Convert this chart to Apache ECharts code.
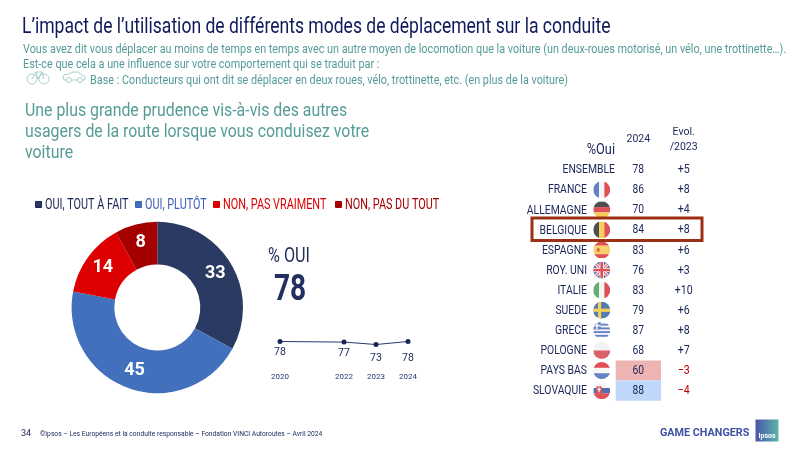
<!DOCTYPE html>
<html><head><meta charset="utf-8">
<style>html,body{margin:0;padding:0;background:#fff}#c{width:800px;height:450px}</style>
<script src="https://cdn.jsdelivr.net/npm/echarts@6/dist/echarts.min.js"></script>
</head><body><div id="c"></div>
<script>
const answerLabels = ['OUI, TOUT À FAIT','OUI, PLUTÔT','NON, PAS VRAIMENT','NON, PAS DU TOUT'];
const answerValues = [33,45,14,8];
const answerColors = ['#2a3a62','#4270bd','#dd0000','#a50000'];
const legendTextColors = ['#1a2558','#3f62b8','#dd0000','#a50000'];
const trendYears = [2020,2022,2023,2024];
const trendValues = [78,77,73,78];
const countries = ['ENSEMBLE','FRANCE','ALLEMAGNE','BELGIQUE','ESPAGNE','ROY. UNI','ITALIE','SUEDE','GRECE','POLOGNE','PAYS BAS','SLOVAQUIE'];
const values2024 = [78,86,70,84,83,76,83,79,87,68,60,88];
const evol2023 = [5,8,4,8,6,3,10,6,8,7,-3,-4];
const tableColumns = ['2024','Evol.\n/2023'];
const highlighted = {'PAYS BAS':'#eeb4b4','SLOVAQUIE':'#bfd7fb'};

const NAVY='#1a2558', TEAL='#559c97', FONT='Roboto,sans-serif';

function flagSvg(body){
  const s='<svg xmlns="http://www.w3.org/2000/svg" width="68" height="68" viewBox="0 0 64 64"><defs><clipPath id="k"><circle cx="32" cy="32" r="32"/></clipPath></defs><g clip-path="url(#k)">'+body+'</g></svg>';
  return 'image://data:image/svg+xml;charset=utf-8,'+encodeURIComponent(s);
}
const r=(x,y,w,h,f)=>`<rect x="${x}" y="${y}" width="${w}" height="${h}" fill="${f}"/>`;
const flags={
 'FRANCE':r(0,0,22,64,'#3f62b8')+r(22,0,20,64,'#f4f4f4')+r(42,0,22,64,'#d8262e'),
 'ALLEMAGNE':r(0,0,64,22,'#222')+r(0,22,64,20,'#d8262e')+r(0,42,64,22,'#f5c02c'),
 'BELGIQUE':r(0,0,22,64,'#222')+r(22,0,20,64,'#f5c52c')+r(42,0,22,64,'#d8262e'),
 'ESPAGNE':r(0,0,64,16,'#d8262e')+r(0,16,64,32,'#f5c542')+r(0,48,64,16,'#d8262e')+r(14,26,10,12,'#c0392b'),
 'ROY. UNI':r(0,0,64,64,'#2d4a9a')+'<path d="M0 0L64 64M64 0L0 64" stroke="#fff" stroke-width="12"/><path d="M0 0L64 64M64 0L0 64" stroke="#d8262e" stroke-width="4"/>'+r(24,0,16,64,'#fff')+r(0,24,64,16,'#fff')+r(27,0,10,64,'#d8262e')+r(0,27,64,10,'#d8262e'),
 'ITALIE':r(0,0,22,64,'#3f9a4e')+r(22,0,20,64,'#f4f4f4')+r(42,0,22,64,'#d8262e'),
 'SUEDE':r(0,0,64,64,'#2c5aa0')+r(18,0,12,64,'#f5c52c')+r(0,26,64,12,'#f5c52c'),
 'GRECE':r(0,0,64,64,'#f4f4f4')+r(0,7,64,7,'#3f62b8')+r(0,21,64,7,'#3f62b8')+r(0,35,64,7,'#3f62b8')+r(0,49,64,7,'#3f62b8')+r(0,0,28,28,'#3f62b8')+r(11,0,6,28,'#f4f4f4')+r(0,11,28,6,'#f4f4f4'),
 'POLOGNE':r(0,0,64,32,'#f0f0f0')+r(0,32,64,32,'#d03a42'),
 'PAYS BAS':r(0,0,64,22,'#d8262e')+r(0,22,64,20,'#f4f4f4')+r(0,42,64,22,'#3f62b8'),
 'SLOVAQUIE':r(0,0,64,22,'#f4f4f4')+r(0,22,64,20,'#2d4a9a')+r(0,42,64,22,'#d8262e')+r(12,16,20,28,'#d8262e')+r(20,20,4,18,'#fff')+r(15,25,14,4,'#fff')
};

function T(x,y,text,size,color,sx,opt){
  opt=opt||{};
  return {type:'text',silent:true,x,y,scaleX:sx||1,style:{x:0,y:0,text,fill:color,
    font:(opt.weight||'normal')+' '+size+'px '+FONT,
    textAlign:opt.align||'left',textVerticalAlign:'middle'}};
}
const iconStroke='#a9cfcb';
const bike={type:'group',silent:true,children:[
 {type:'circle',shape:{cx:32,cy:79,r:5},style:{fill:'none',stroke:iconStroke}},
 {type:'circle',shape:{cx:44,cy:79,r:5},style:{fill:'none',stroke:iconStroke}},
 {type:'polyline',shape:{points:[[32,79],[36,72],[42,72],[44,79]]},style:{fill:'none',stroke:iconStroke}},
 {type:'polyline',shape:{points:[[36,72],[38,79],[42,72]]},style:{fill:'none',stroke:iconStroke}}]};
const car={type:'group',silent:true,children:[
 {type:'polygon',shape:{points:[[64,80],[63,76],[65,74.5],[69,74],[73,72],[78,72],[82,75],[85,76.5],[85,80]]},style:{fill:'none',stroke:iconStroke}},
 {type:'circle',shape:{cx:69,cy:80,r:2.5},style:{fill:'#fff',stroke:iconStroke}},
 {type:'circle',shape:{cx:80,cy:80,r:2.5},style:{fill:'#fff',stroke:iconStroke}}]};

const legendX=[35,135,213,335];
const legendGraphics=[];
answerLabels.forEach((n,i)=>{
  legendGraphics.push({type:'rect',silent:true,shape:{x:legendX[i]+.5,y:201.5,width:6,height:6},
    style:{fill:answerColors[i],stroke:legendTextColors[i],lineWidth:1}});
  legendGraphics.push(T(legendX[i]+10,205,n,14,legendTextColors[i],0.775));
});

const graphics=[
 T(22,27.5,'L’impact de l’utilisation de différents modes de déplacement sur la conduite',21.4,'#0f1a5c',0.82),
 T(23,50,'Vous avez dit vous déplacer au moins de temps en temps avec un autre moyen de locomotion que la voiture (un deux-roues motorisé, un vélo, une trottinette…).',13,TEAL,0.833),
 T(23,65,'Est-ce que cela a une influence sur votre comportement qui se traduit par :',13,TEAL,0.833),
 T(90,81,'Base : Conducteurs qui ont dit se déplacer en deux roues, vélo, trottinette, etc. (en plus de la voiture)',13,TEAL,0.833),
 bike,car,
 T(25,111,'Une plus grande prudence vis-à-vis des autres',19,TEAL,0.835),
 T(25,132,'usagers de la route lorsque vous conduisez votre',19,TEAL,0.835),
 T(25,153,'voiture',19,TEAL,0.835),
 ...legendGraphics,
 T(268,257,'% OUI',20,'#232f5e',0.81),
 T(274,291,'78',36,'#232f5e',0.78,{weight:'bold'}),
 T(615,150,'%Oui',15,NAVY,0.85,{align:'right'}),
 {type:'rect',silent:true,z:10,shape:{x:532,y:218,width:170,height:22.5},style:{fill:'none',stroke:'#9c2f14',lineWidth:3}},
 T(21,434,'34',9,NAVY),
 T(40,434,'©Ipsos – Les Européens et la conduite responsable – Fondation VINCI Autoroutes – Avril 2024',7,NAVY,0.96),
 T(660,433,'GAME CHANGERS',11,'#3f51a3',0.98,{weight:'bold'}),
 {type:'rect',silent:true,shape:{x:755.5,y:419.5,width:23,height:22},style:{fill:new echarts.graphic.LinearGradient(0,0,1,0,[{offset:0,color:'#4a55ab'},{offset:1,color:'#5bb5a9'}])}},
 T(767,436,'Ipsos',7,'#fff',1,{weight:'bold',align:'center'})
];

// Table cell text placed through the table's own category axes, narrowed to the original's condensed look
function cellText(api,column,row,text,size,color,sx,align,dx){
  const c=api.coord([column,row]), s=api.size([1,1]);
  const x=align==='right'?c[0]-s[0]/2+dx:c[0];
  return {type:'text',x,y:c[1]+.5,scaleX:sx,style:{x:0,y:0,text:String(text),fill:color,font:size+'px '+FONT,
     align,verticalAlign:'middle',textAlign:align,textVerticalAlign:'middle'}};
}

const option={
 animation:false,
 textStyle:{fontFamily:FONT},
 graphic:graphics,
 grid:[
  {left:280,width:128,top:340.3,height:6},
  {left:615.7,width:90.6,top:159.5,height:241.2},
  {left:593.5,width:16.4,top:159.5,height:241.2}
 ],
 xAxis:[
  {gridIndex:0,type:'value',min:2020,max:2024,interval:1,splitLine:{show:false},axisLine:{show:false},axisTick:{show:false},
   axisLabel:{customValues:trendYears,margin:27,fontSize:8,color:'#2b3870',fontFamily:FONT,formatter:v=>String(v),hideOverlap:false}},
  {gridIndex:1,type:'category',position:'top',data:tableColumns,axisLine:{show:false},axisTick:{show:false},
   axisLabel:{interval:0,margin:20,fontSize:10.5,lineHeight:15,color:NAVY,fontFamily:FONT,verticalAlign:'middle'}},
  {gridIndex:2,type:'category',data:['flag'],show:false}
 ],
 yAxis:[
  {gridIndex:0,type:'value',min:70,max:80,show:false,splitLine:{show:false}},
  {gridIndex:1,type:'category',inverse:true,data:countries,axisLine:{show:false},axisTick:{show:false},axisLabel:{show:false}},
  {gridIndex:2,type:'category',inverse:true,data:countries,show:false}
 ],
 series:[
  {type:'pie',center:[157.3,307.5],radius:[43,85.7],startAngle:90,clockwise:true,
   data:answerLabels.map((n,i)=>({name:n,value:answerValues[i],itemStyle:{color:answerColors[i]}})),
   label:{show:true,position:'inside',formatter:'{c}',color:'#fff',fontSize:18,fontWeight:'bold',fontFamily:FONT},
   labelLine:{show:false},emphasis:{disabled:true}},
  {type:'line',xAxisIndex:0,yAxisIndex:0,data:trendYears.map((y,i)=>({value:[y,trendValues[i]],
     label:{distance:[3,3,6,9][i]}})),
   symbol:'circle',symbolSize:5,lineStyle:{color:'#2b3870',width:1},itemStyle:{color:'#1a2558'},
   label:{show:true,position:'bottom',formatter:p=>p.value[1],color:NAVY,fontSize:10.5,fontFamily:FONT}},
  {type:'custom',xAxisIndex:1,yAxisIndex:1,z:1,silent:true,
   data:countries.map((c,i)=>[0,i]).filter(d=>highlighted[countries[d[1]]]),
   renderItem:(p,api)=>{
     const c=api.coord([api.value(0),api.value(1)]), s=api.size([1,1]);
     return {type:'rect',shape:{x:c[0]-s[0]/2,y:c[1]-s[1]/2,width:s[0],height:s[1]},
       style:{fill:highlighted[countries[api.value(1)]]}};
   }},
  {type:'custom',xAxisIndex:1,yAxisIndex:1,z:3,silent:true,clip:false,
   data:countries.map((c,i)=>[0,i]),
   renderItem:(p,api)=>{
     const i=api.value(1), name=countries[i], ev=evol2023[i];
     return {type:'group',children:[
       cellText(api,0,i,name,13,NAVY,0.8,'right',flags[name]?-28.7:-0.7),
       cellText(api,0,i,values2024[i],12.5,NAVY,0.82,'center',0),
       cellText(api,1,i,(ev>0?'+':'−')+Math.abs(ev),12.5,ev<0?'#c00000':NAVY,0.85,'center',0)
     ]};
   }},
  {type:'scatter',xAxisIndex:2,yAxisIndex:2,z:3,symbolSize:17,silent:true,
   data:countries.map((c,i)=>flags[c]?{value:[0,i],symbol:flagSvg(flags[c])}:null).filter(Boolean)}
 ]
};
const chart=echarts.init(document.getElementById('c'),null,{renderer:'canvas'});
chart.setOption(option);
</script></body></html>
